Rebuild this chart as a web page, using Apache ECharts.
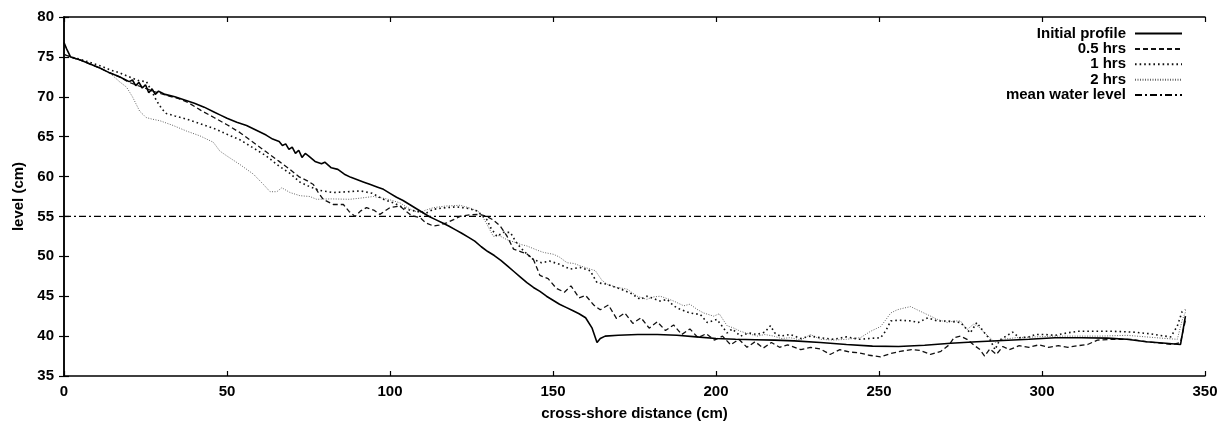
<!DOCTYPE html>
<html>
<head>
<meta charset="utf-8">
<script src="https://cdn.jsdelivr.net/npm/echarts@6/dist/echarts.min.js"></script>
<style>
  html, body { margin: 0; padding: 0; background: #fff; }
  #chart { width: 1228px; height: 430px; }
</style>
</head>
<body>
<div id="chart"></div>
<script>
// ---- data: [cross-shore distance (cm), level (cm)] ----
const seriesNames = ['Initial profile', '0.5 hrs', '1 hrs', '2 hrs', 'mean water level'];

const initialProfile = [[0,76.8],[0.8,76.0],[2,75.0],[5,74.6],[8,74.1],[11,73.6],[14,73.0],[17,72.5],[20,71.9],[21,72.1],[22,71.4],[23,71.8],[24,71.1],[25,71.5],[26,70.5],[27,71.0],[28,70.3],[29,70.7],[31,70.3],[34,70.0],[37,69.6],[40,69.2],[43,68.7],[46,68.1],[48,67.7],[50,67.3],[53,66.8],[56,66.4],[59,65.8],[62,65.2],[64,64.7],[66,64.4],[67,63.9],[68,64.1],[69,63.4],[70,63.7],[71,62.9],[72,63.3],[73,62.4],[74,62.9],[75,62.6],[77,61.9],[79,61.6],[80,61.8],[82,61.1],[84,60.9],[86,60.3],[88,59.9],[90,59.6],[92,59.3],[94,59.0],[96,58.7],[98,58.4],[100,57.9],[102,57.4],[104,57.0],[106,56.5],[108,56.0],[110,55.5],[112,55.0],[114,54.6],[116,54.2],[118,53.8],[120,53.35],[122,52.9],[124,52.4],[126,51.9],[128,51.2],[130,50.6],[132,50.1],[134,49.5],[136,48.8],[138,48.1],[140,47.4],[142,46.7],[144,46.1],[146,45.6],[148,45.0],[150,44.5],[152,44.0],[154,43.6],[156,43.2],[158,42.8],[160,42.3],[162,41.0],[163.5,39.2],[164.5,39.7],[166,40.0],[170,40.1],[176,40.2],[182,40.2],[188,40.1],[194,39.9],[200,39.7],[206,39.6],[212,39.55],[218,39.5],[224,39.4],[232,39.2],[240,38.95],[248,38.75],[256,38.7],[264,38.85],[272,39.1],[280,39.3],[288,39.45],[296,39.6],[304,39.8],[312,39.8],[320,39.75],[326,39.6],[332,39.3],[338,39.1],[342.5,38.95],[344,42.5]];

const halfHour = [[0,75.3],[2,75.0],[5,74.6],[8,74.1],[11,73.6],[14,73.0],[17,72.5],[20,71.8],[24,71.2],[28,70.6],[32,70.1],[35,69.8],[38,69.3],[42,68.3],[46,67.4],[50,66.5],[54,65.5],[58,64.3],[62,63.1],[66,61.9],[69,61.0],[72,60.0],[74.5,59.5],[76.5,59.0],[78,58.0],[79.5,57.15],[82.6,56.5],[85.7,56.5],[87.5,55.6],[89.3,55.0],[91,55.7],[92.8,56.1],[95,55.8],[96.9,55.26],[98.5,55.7],[100,56.1],[103,56.3],[106,55.3],[107.5,55.0],[109.2,54.85],[111,54.2],[113.3,53.8],[115,53.9],[117.4,54.2],[119.5,54.6],[121.5,55.0],[124.5,55.2],[127.6,55.26],[129.7,55.0],[131.5,54.6],[133.8,53.8],[135.8,52.6],[137.9,50.9],[140,50.6],[142,50.3],[144,49.6],[146,47.6],[148.5,47.2],[151,46.0],[153.5,45.5],[155.5,46.3],[158,44.8],[160,45.1],[162.5,43.9],[164.5,43.3],[167,43.9],[169.5,42.2],[172,42.9],[174.5,41.6],[177,42.3],[179.5,41.0],[182,41.8],[184.5,40.7],[187,41.4],[189.5,40.2],[192,40.9],[194.5,39.8],[197,40.3],[199.5,39.5],[202,40.0],[204.5,38.9],[207,39.6],[209.5,38.6],[212,39.3],[214.5,38.5],[217,39.2],[219.5,38.6],[222,38.9],[226,38.3],[229,38.6],[232,38.4],[235,37.7],[238,38.3],[241,38.0],[244,37.9],[247,37.6],[250.5,37.4],[253.5,37.8],[256.5,38.1],[260,38.3],[262.7,38.2],[265.8,37.7],[269,38.1],[271.5,38.9],[273,39.8],[275,40.0],[277,39.6],[279,38.9],[281,38.3],[282.4,37.5],[284,38.4],[286,37.7],[288,38.7],[290,38.3],[293,38.8],[296,38.6],[299,38.9],[302,38.6],[305,38.8],[308,38.6],[311,38.8],[314,38.95],[317,39.5],[322,39.6],[327,39.6],[332,39.3],[337,39.1],[340,38.95],[342.5,39.2],[344,42.0]];

const oneHour = [[0,75.3],[2,75.0],[5,74.7],[8,74.3],[11,73.9],[14,73.4],[17,73.0],[20,72.5],[23,72.0],[25.3,71.9],[27,70.6],[28.4,69.5],[30,68.5],[31.4,67.9],[34,67.6],[37.6,67.2],[42,66.6],[46.8,65.9],[50,65.3],[54,64.6],[58,63.6],[62,62.6],[66,61.3],[69.3,60.4],[72.4,59.3],[75,58.8],[78,58.3],[82.6,58.0],[87,58.1],[91,58.2],[94.5,57.9],[98,57.15],[101,56.7],[103.1,56.3],[106,55.8],[109,55.6],[111,55.4],[113.3,55.9],[117,56.1],[120.5,56.2],[124,56.0],[126.6,55.7],[129.7,54.6],[131,53.5],[132.8,52.5],[134.8,53.0],[136.9,53.0],[138.5,51.9],[140,51.1],[142,50.3],[144,49.6],[146.5,49.2],[149,49.4],[152,49.0],[155.3,48.4],[158.4,48.6],[161.4,48.2],[163.5,46.7],[166.6,46.5],[170.7,45.9],[173.7,45.4],[176.8,44.6],[178.8,45.0],[182.9,44.4],[185,44.6],[187,43.8],[189,43.35],[192.1,42.9],[195.2,42.7],[197.3,41.7],[200.3,42.1],[203.4,40.4],[205,40.9],[207.5,40.0],[210,40.4],[212.6,40.2],[215,40.5],[216.7,41.3],[218,40.4],[219.7,40.0],[222.8,40.2],[226,39.7],[229,40.0],[232,39.8],[236,39.6],[240,39.9],[244,39.6],[247,39.7],[250.5,39.8],[252,40.6],[253.6,41.9],[256,42.0],[260,41.9],[262,41.7],[265,42.3],[267.9,41.9],[271,41.9],[275,41.7],[278,40.4],[280,41.7],[282,40.6],[284,39.6],[285.6,38.3],[287,39.5],[289,40.0],[291,40.5],[293,39.8],[296,39.9],[298,40.2],[301,40.2],[304,40.1],[307.7,40.4],[311,40.6],[316,40.6],[322,40.6],[328,40.5],[333,40.3],[336,40.1],[339.5,39.9],[341.5,41.25],[343,43.1],[344,43.3]];

const twoHours = [[0,75.3],[2,75.0],[5,74.6],[8,74.1],[11,73.6],[14,73.0],[15.1,72.6],[17,71.9],[19.2,71.2],[21,70.0],[23.2,68.2],[25.2,67.4],[27,67.2],[29.4,67.0],[33.5,66.4],[37.6,65.7],[41.7,65.1],[45.8,64.3],[47.8,63.2],[49.9,62.6],[54,61.5],[58.1,60.3],[61.2,59.0],[63.2,58.1],[65.3,58.1],[66.8,58.6],[69.3,58.0],[72.4,57.6],[75.4,57.5],[77.5,57.15],[82,57.2],[87.7,57.15],[91,57.3],[94.9,57.5],[99,57.2],[103.1,56.7],[105,56.2],[107.2,55.7],[109.2,55.5],[111,55.8],[113.3,56.1],[117,56.3],[121.5,56.4],[125,56.0],[127.6,55.5],[129.5,54.2],[131.7,52.5],[133.5,52.6],[135.8,52.1],[138,51.8],[140,51.5],[142,51.3],[145,50.8],[147,50.5],[150.2,50.25],[152,49.9],[154.3,49.2],[156.5,49.1],[158.4,48.8],[161.4,48.4],[163,48.2],[165,47.0],[166.6,46.5],[169.6,46.1],[172.7,45.9],[175.8,45.0],[178.8,44.6],[180.5,44.9],[182.9,45.0],[185,44.7],[187,44.4],[190.1,43.8],[192,44.0],[194.2,43.35],[196.2,42.9],[199.3,42.5],[201,42.8],[203.4,41.3],[205.5,41.0],[207.5,40.6],[210,40.3],[212.6,40.0],[215,40.2],[217.7,40.0],[220,39.7],[222.8,39.8],[226,39.5],[229,40.2],[232,39.6],[236,39.5],[240,39.6],[244.3,39.8],[247.4,40.6],[250.5,41.2],[252,42.0],[253.6,42.9],[255.6,43.3],[257.5,43.5],[259.7,43.7],[261.7,43.3],[264.8,42.7],[267.9,42.1],[271,41.7],[273,41.9],[275,41.9],[277,40.8],[279,41.5],[280.5,41.2],[282.4,40.4],[284,39.8],[285.6,39.2],[288,39.6],[292,39.8],[298,39.9],[304,40.0],[310,40.0],[318,40.0],[326,40.1],[332,39.9],[338,39.7],[341.5,39.6],[343,42.0],[344,43.0]];

const meanWaterLevel = [[0,55],[350,55]];

const xTicks = [0, 50, 100, 150, 200, 250, 300, 350];
const yTicks = [35, 40, 45, 50, 55, 60, 65, 70, 75, 80];

// ---- chart ----
const FONT = '"Liberation Sans", Arial, sans-serif';
const chart = echarts.init(document.getElementById('chart'), null, { renderer: 'canvas' });

const axisLine = { show: true, lineStyle: { color: '#000', width: 1.5 } };
const tickIn = { show: true, inside: true, length: 5, lineStyle: { color: '#000', width: 1.2 } };
const labelStyle = { color: '#000', fontFamily: FONT, fontSize: 15, fontWeight: 'bold' };

const xBase = { type: 'value', min: xTicks[0], max: xTicks[xTicks.length - 1], interval: 50 };
const yBase = { type: 'value', min: yTicks[0], max: yTicks[yTicks.length - 1], interval: 5 };

const styles = [
  { color: '#000', width: 1.6, type: 'solid' },
  { color: '#111', width: 1.3, type: [5, 3] },
  { color: '#111', width: 1.6, type: [1.6, 3] },
  { color: '#666', width: 1.0, type: [1, 1.5] },
  { color: '#000', width: 1.2, type: [7, 3, 2, 3] }
];
const datasets = [initialProfile, halfHour, oneHour, twoHours, meanWaterLevel];

chart.setOption({
  animation: false,
  backgroundColor: '#fff',
  grid: { left: 64, right: 23, top: 17, bottom: 54, containLabel: false },
  legend: {
    orient: 'vertical',
    right: 45,
    top: 26,
    align: 'right',
    padding: 0,
    itemWidth: 47,
    itemHeight: 14,
    itemGap: 0.4,
    itemStyle: { opacity: 0, borderWidth: 0 },
    textStyle: { color: '#000', fontFamily: FONT, fontSize: 15, fontWeight: 'bold', lineHeight: 14, padding: [0, 4, 0, 0] },
    data: seriesNames
  },
  xAxis: [
    Object.assign({}, xBase, {
      position: 'bottom',
      name: 'cross-shore distance (cm)',
      nameLocation: 'middle',
      nameGap: 30,
      nameTextStyle: labelStyle,
      axisLine, axisTick: tickIn, splitLine: { show: false },
      axisLabel: Object.assign({ margin: 8 }, labelStyle)
    }),
    Object.assign({}, xBase, {
      position: 'top',
      axisLine, axisTick: tickIn, splitLine: { show: false },
      axisLabel: { show: false }
    })
  ],
  yAxis: [
    Object.assign({}, yBase, {
      position: 'left',
      name: 'level (cm)',
      nameLocation: 'middle',
      nameGap: 37,
      nameRotate: 90,
      nameTextStyle: labelStyle,
      axisLine, axisTick: tickIn, splitLine: { show: false },
      axisLabel: Object.assign({ margin: 10 }, labelStyle)
    }),
    Object.assign({}, yBase, {
      position: 'right',
      axisLine, axisTick: tickIn, splitLine: { show: false },
      axisLabel: { show: false }
    })
  ],
  series: seriesNames.map((name, i) => ({
    name,
    type: 'line',
    xAxisIndex: 0,
    yAxisIndex: 0,
    data: datasets[i],
    showSymbol: false,
    symbol: 'none',
    smooth: false,
    lineStyle: styles[i],
    itemStyle: { color: styles[i].color },
    z: 10 - i
  }))
});
</script>
</body>
</html>
